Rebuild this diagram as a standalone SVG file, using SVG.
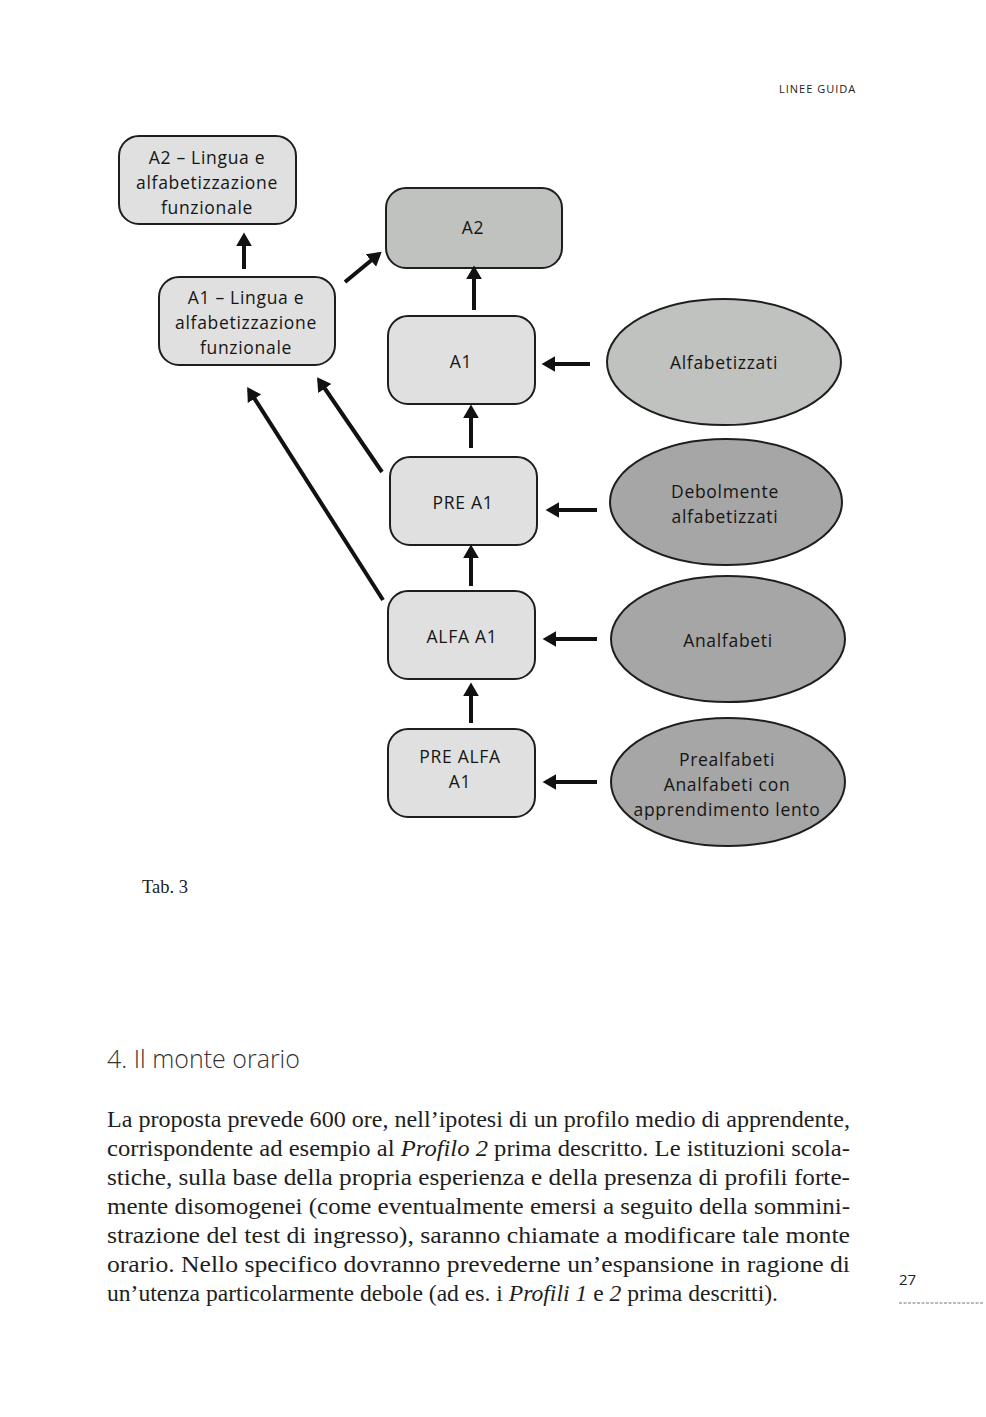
<svg xmlns="http://www.w3.org/2000/svg" width="986" height="1417" viewBox="0 0 986 1417">
<style>
.box{fill:#e0e0e0;stroke:#1e1e1e;stroke-width:2}
.dark{fill:#c0c2bf}
.ell1{fill:#c0c2bf;stroke:#1e1e1e;stroke-width:2}
.ell2{fill:#a6a6a6;stroke:#1e1e1e;stroke-width:2}
.t{font-family:"Open Sans","Noto Sans",sans-serif;font-size:17.5px;fill:#151515;text-anchor:middle;letter-spacing:0.7px}
.arr{stroke:#111;stroke-width:4;fill:none;marker-end:url(#ah)}
.body{font-family:"Liberation Serif",serif;font-size:23px;fill:#1e1e1e}
</style>
<defs>
<marker id="ah" viewBox="0 0 12 14" markerUnits="userSpaceOnUse" markerWidth="14" markerHeight="16" refX="9" refY="7" orient="auto">
<path d="M0,0 L12,7 L0,14 z" fill="#111"/>
</marker>
</defs>
<rect width="986" height="1417" fill="#fff"/>
<text x="779" y="93" font-family="Open Sans,Noto Sans,sans-serif" font-size="11" letter-spacing="1" fill="#222">LINEE GUIDA</text>

<g id="n-a2lingua"><rect class="box" x="119" y="136" width="177" height="88" rx="20"/>
<text class="t" x="207" y="164">A2 – Lingua e</text><text class="t" x="207" y="189">alfabetizzazione</text><text class="t" x="207" y="214">funzionale</text></g>
<g id="n-a1lingua"><rect class="box" x="159" y="277" width="176" height="88" rx="20"/>
<text class="t" x="246" y="304">A1 – Lingua e</text><text class="t" x="246" y="329">alfabetizzazione</text><text class="t" x="246" y="354">funzionale</text></g>
<g id="n-a2"><rect class="box dark" x="386" y="188" width="176" height="80" rx="20"/>
<text class="t" x="473" y="234">A2</text></g>
<g id="n-a1"><rect class="box" x="388" y="316" width="147" height="88" rx="20"/>
<text class="t" x="461" y="368">A1</text></g>
<g id="n-prea1"><rect class="box" x="390" y="457" width="147" height="88" rx="20"/>
<text class="t" x="463" y="509">PRE A1</text></g>
<g id="n-alfaa1"><rect class="box" x="388" y="591" width="147" height="88" rx="20"/>
<text class="t" x="462" y="643">ALFA A1</text></g>
<g id="n-prealfaa1"><rect class="box" x="388" y="729" width="147" height="88" rx="20"/>
<text class="t" x="460" y="763">PRE ALFA</text><text class="t" x="460" y="788">A1</text></g>

<g id="n-alfabetizzati"><ellipse class="ell1" cx="724" cy="362" rx="117" ry="63"/>
<text class="t" x="724" y="369">Alfabetizzati</text></g>
<g id="n-debolmente"><ellipse class="ell2" cx="726" cy="502" rx="116" ry="63"/>
<text class="t" x="725" y="498">Debolmente</text><text class="t" x="725" y="523">alfabetizzati</text></g>
<g id="n-analfabeti"><ellipse class="ell2" cx="728" cy="639" rx="117" ry="63"/>
<text class="t" x="728" y="647">Analfabeti</text></g>
<g id="n-prealfabeti"><ellipse class="ell2" cx="728" cy="782" rx="117" ry="64"/>
<text class="t" x="727" y="766">Prealfabeti</text><text class="t" x="727" y="791">Analfabeti con</text><text class="t" x="727" y="816">apprendimento lento</text></g>

<g id="connectors">
<line class="arr" x1="244" y1="269" x2="244" y2="236"/>
<line class="arr" x1="345" y1="282" x2="379" y2="254"/>
<line class="arr" x1="474" y1="310" x2="474" y2="269"/>
<line class="arr" x1="471" y1="448" x2="471" y2="408"/>
<line class="arr" x1="471" y1="586" x2="471" y2="548"/>
<line class="arr" x1="471" y1="723" x2="471" y2="686"/>
<line class="arr" x1="382" y1="472" x2="319" y2="380"/>
<line class="arr" x1="383" y1="600" x2="249" y2="390"/>
<line class="arr" x1="590" y1="364" x2="545" y2="364"/>
<line class="arr" x1="597" y1="510" x2="549" y2="510"/>
<line class="arr" x1="597" y1="639" x2="546" y2="639"/>
<line class="arr" x1="597" y1="782" x2="546" y2="782"/>
</g>

<text x="142" y="893" font-family="Liberation Serif,serif" font-size="18.5" fill="#222">Tab. 3</text>
<text x="107" y="1068" font-family="Open Sans,Noto Sans,sans-serif" font-weight="300" font-size="25" fill="#333">4. Il monte orario</text>
<g class="body">
<text x="107" y="1127" textLength="743" lengthAdjust="spacingAndGlyphs">La proposta prevede 600 ore, nell’ipotesi di un profilo medio di apprendente,</text>
<text x="107" y="1156" textLength="743" lengthAdjust="spacingAndGlyphs">corrispondente ad esempio al <tspan font-style="italic">Profilo 2</tspan> prima descritto. Le istituzioni scola-</text>
<text x="107" y="1185" textLength="743" lengthAdjust="spacingAndGlyphs">stiche, sulla base della propria esperienza e della presenza di profili forte-</text>
<text x="107" y="1214" textLength="743" lengthAdjust="spacingAndGlyphs">mente disomogenei (come eventualmente emersi a seguito della sommini-</text>
<text x="107" y="1243" textLength="743" lengthAdjust="spacingAndGlyphs">strazione del test di ingresso), saranno chiamate a modificare tale monte</text>
<text x="107" y="1272" textLength="743" lengthAdjust="spacingAndGlyphs">orario. Nello specifico dovranno prevederne un’espansione in ragione di</text>
<text x="107" y="1301" textLength="671" lengthAdjust="spacingAndGlyphs">un’utenza particolarmente debole (ad es. i <tspan font-style="italic">Profili 1</tspan> e <tspan font-style="italic">2</tspan> prima descritti).</text>
</g>
<text x="899" y="1285" font-family="Open Sans,Noto Sans,sans-serif" font-size="15" fill="#222">27</text>
<line x1="899" y1="1303" x2="984" y2="1303" stroke="#777" stroke-width="1" stroke-dasharray="3,1.5"/>
</svg>
